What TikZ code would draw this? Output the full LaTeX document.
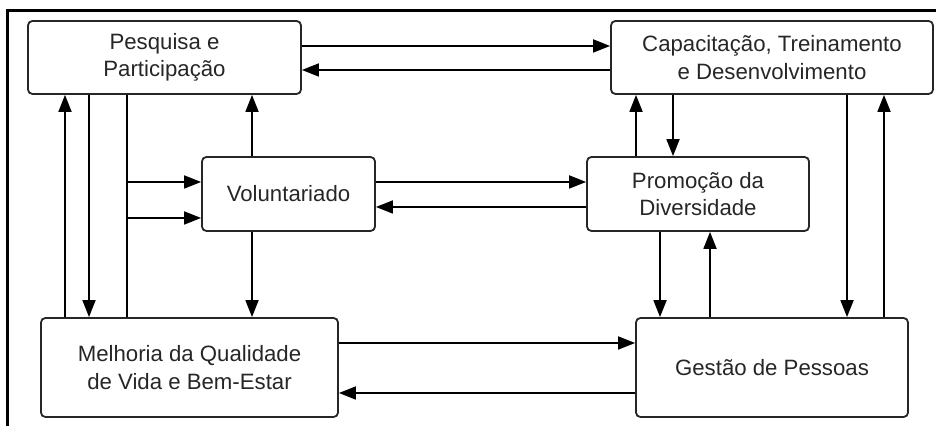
\documentclass[tikz,border=0pt]{standalone}
\usepackage{fontspec}
\setmainfont{Liberation Sans}
\usetikzlibrary{arrows.meta}
\begin{document}
\begin{tikzpicture}[x=0.5pt,y=-0.5pt,
  box/.style={draw=black!85,line width=0.9pt,rounded corners=2.2pt,align=center,
    font=\fontsize{11.1pt}{13.6pt}\selectfont,text=black!85,inner sep=0pt},
  link/.style={draw=black,line width=0.9pt},
  arr/.style={link,-{Triangle[length=8.5pt,width=6.5pt]}}]
\useasboundingbox (0,0) rectangle (936,426);
\draw[line width=1.5pt] (7.5,426) -- (7.5,10.5) -- (936,10.5);
\node[box,minimum width=136.5pt,minimum height=36.5pt] (P) at (164.5,57.5) {Pesquisa e\\Participação};
\node[box,minimum width=161pt,minimum height=36.5pt] (C) at (772,57.5) {Capacitação, Treinamento\\e Desenvolvimento};
\node[box,minimum width=86.5pt,minimum height=37pt] (V) at (288.5,194) {Voluntariado};
\node[box,minimum width=111pt,minimum height=37pt] (D) at (698,194) {Promoção da\\Diversidade};
\node[box,minimum width=148.5pt,minimum height=49.5pt] (M) at (189.5,367.5) {Melhoria da Qualidade\\de Vida e Bem-Estar};
\node[box,minimum width=136pt,minimum height=49.5pt] (G) at (772,367.5) {Gestão de Pessoas};
% horizontal pairs
\draw[arr] (P.east |- 0,46) -- (C.west |- 0,46);
\draw[arr] (C.west |- 0,70) -- (P.east |- 0,70);
\draw[arr] (V.east |- 0,182) -- (D.west |- 0,182);
\draw[arr] (D.west |- 0,207) -- (V.east |- 0,207);
\draw[arr] (M.east |- 0,343) -- (G.west |- 0,343);
\draw[arr] (G.west |- 0,393) -- (M.east |- 0,393);
% left verticals
\draw[arr] (65,0 |- M.north) -- (65,0 |- P.south);
\draw[arr] (89,0 |- P.south) -- (89,0 |- M.north);
\draw[link] (127,0 |- P.south) -- (127,0 |- M.north);
\coordinate (b1) at (127,182);
\coordinate (b2) at (127,218);
\draw[arr] (b1) -- (V.west |- b1);
\draw[arr] (b2) -- (V.west |- b2);
\draw[arr] (252,0 |- V.north) -- (252,0 |- P.south);
\draw[arr] (252,0 |- V.south) -- (252,0 |- M.north);
% right verticals
\draw[arr] (636,0 |- D.north) -- (636,0 |- C.south);
\draw[arr] (673,0 |- C.south) -- (673,0 |- D.north);
\draw[arr] (660,0 |- D.south) -- (660,0 |- G.north);
\draw[arr] (710,0 |- G.north) -- (710,0 |- D.south);
\draw[arr] (847,0 |- C.south) -- (847,0 |- G.north);
\draw[arr] (884,0 |- G.north) -- (884,0 |- C.south);
\end{tikzpicture}
\end{document}
